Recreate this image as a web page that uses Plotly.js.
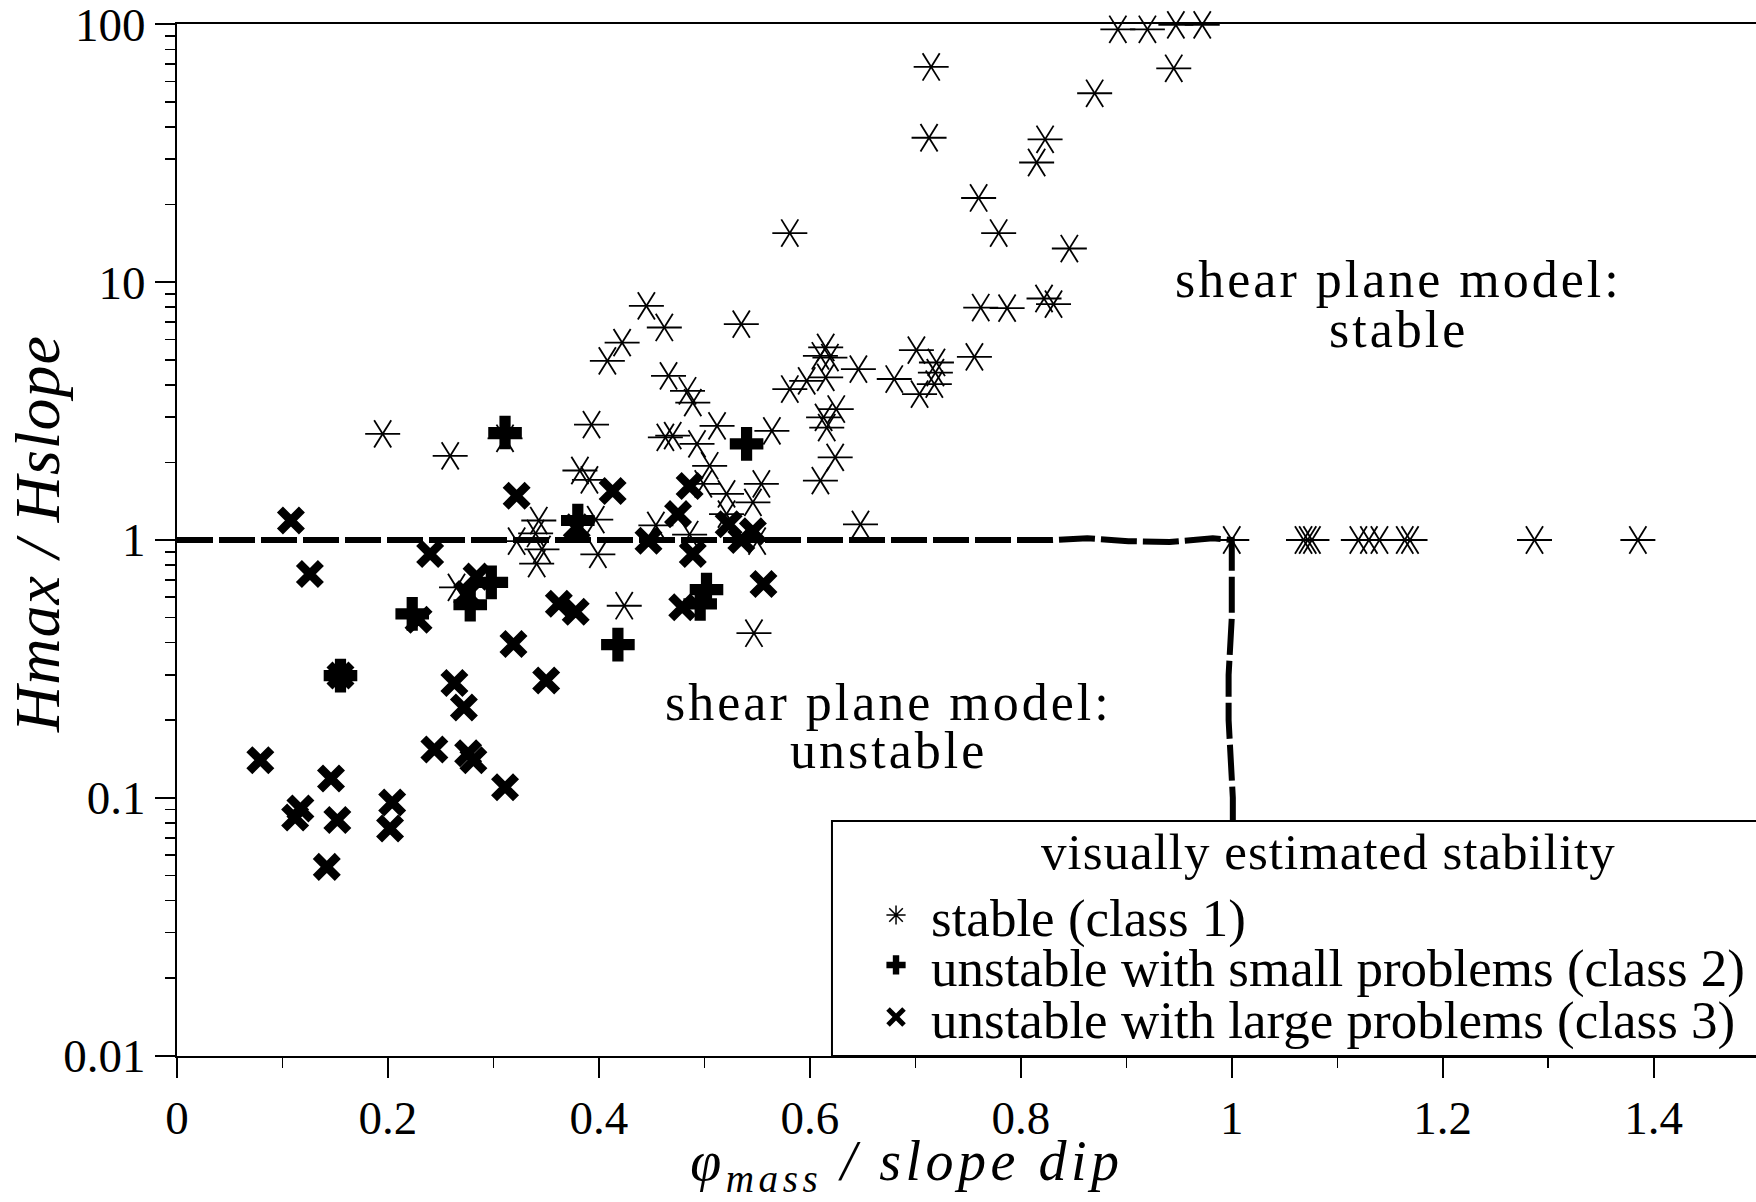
<!DOCTYPE html>
<html>
<head>
<meta charset="utf-8">
<script src="https://cdn.plot.ly/plotly-3.0.1.min.js"></script>
<style>
html, body { margin:0; padding:0; background:#fff; }
#chart { width:1756px; height:1202px; }
.annotation-text { letter-spacing: 3px; }
.annotation[data-index="4"] .annotation-text { letter-spacing: 1px; }
.annotation[data-index="5"] .annotation-text { letter-spacing: 4.5px; }
.annotation[data-index="6"] .annotation-text { letter-spacing: 1px; }
</style>
</head>
<body>
<div id="chart"></div>
<script>
// ---- data ----
// class 1: visually stable (asterisks)
const stableX = [0.892,0.920,0.947,0.972,0.945,0.870,0.715,0.713,0.823,0.815,
                 0.760,0.779,0.846,0.581,0.762,0.787,0.822,0.831,0.445,0.462,
                 0.422,0.408,0.535,0.466,0.484,0.489,0.615,0.610,0.619,0.646,
                 0.615,0.581,0.597,0.701,0.720,0.719,0.718,0.680,0.704,0.756,
                 0.625,0.613,0.616,0.624,0.610,0.554,0.546,0.521,0.505,0.499,
                 0.382,0.391,0.343,0.340,0.322,0.346,0.341,0.265,0.399,0.397,
                 0.454,0.486,0.521,0.550,0.648,0.424,0.547,0.195,0.259,0.311,
                 0.393,0.512,0.463,0.470,0.493,0.564,
                 1.000,1.068,1.072,1.076,1.120,1.130,1.140,1.164,1.169,1.287,1.385];
const stableY = [95.6,95.6,99.4,99.4,67.5,54.0,68.3,36.3,35.8,29.1,
                 21.2,15.5,13.5,15.5,7.97,7.93,8.64,8.22,8.09,6.67,
                 5.83,4.95,6.87,4.33,3.79,3.41,5.58,5.18,5.10,4.60,
                 4.27,3.85,4.14,5.45,4.88,4.46,4.02,4.21,3.68,5.13,
                 3.22,2.99,2.73,2.09,1.70,1.65,1.40,1.51,1.94,1.65,
                 1.86,1.71,1.19,1.06,0.99,0.92,0.81,0.655,0.88,1.20,
                 1.14,1.05,1.26,0.99,1.15,0.556,0.435,2.58,2.12,2.48,
                 2.80,2.77,2.50,2.54,2.36,2.65,
                 1,1,1,1,1,1,1,1,1,1,1];
// class 2: unstable with small problems (bold plus)
const smallX = [0.311,0.540,0.380,0.298,0.278,0.223,0.502,0.496,0.418,0.155];
const smallY = [2.61,2.36,1.19,0.685,0.561,0.517,0.642,0.565,0.393,0.298];
// class 3: unstable with large problems (bold x)
const largeX = [0.108,0.126,0.240,0.322,0.284,0.275,0.229,0.319,0.350,0.263,
                0.272,0.155,0.244,0.276,0.281,0.311,0.079,0.146,0.117,0.112,
                0.152,0.204,0.202,0.142,0.362,0.378,0.413,0.379,0.447,0.475,
                0.486,0.489,0.479,0.523,0.535,0.546,0.556];
const largeY = [1.19,0.738,0.882,1.485,0.721,0.618,0.491,0.395,0.285,0.279,
                0.224,0.298,0.154,0.149,0.140,0.110,0.140,0.119,0.091,0.084,
                0.082,0.096,0.076,0.054,0.566,0.527,1.55,1.12,0.994,1.26,
                1.62,0.882,0.548,1.15,1.00,1.08,0.675];
// hand-drawn boundary of the shear plane model (dashed)
const boundaryX = [0, 0.830, 0.863, 0.902, 0.941, 0.982, 1.000, 1.000, 0.997, 0.997, 1.001, 1.001];
const boundaryY = [1, 1, 1.015, 0.99, 0.983, 1.015, 1.0, 0.5, 0.3, 0.2, 0.1, 0.05];

const legendNames = ['stable (class 1)',
                     'unstable with small problems (class 2)',
                     'unstable with large problems (class 3)'];
const legendTitle = 'visually estimated stability';
const xTitle = '<i>φ<sub>mass</sub> / slope dip</i>';
const yTitle = '<i>Hmax / Hslope</i>';
const regionLabels = ['shear plane model:', 'stable', 'shear plane model:', 'unstable'];

// ---- drawing ----
const K = '#000';
const FONT = '"Liberation Serif", "Times New Roman", Times, serif';

const traces = [
  {x: boundaryX, y: boundaryY, mode: 'lines', showlegend: false, hoverinfo: 'skip',
   line: {color: K, width: 6, dash: '36px,6px'}},
  {x: stableX, y: stableY, mode: 'markers', showlegend: false, cliponaxis: false,
   marker: {symbol: 'line-ew-open', size: 25, color: K, line: {color: K, width: 1.8}}},
  {x: stableX, y: stableY, mode: 'markers', showlegend: false, cliponaxis: false,
   marker: {symbol: 'line-ns-open', size: 23, angle: 32, color: K, line: {color: K, width: 1.8}}},
  {x: stableX, y: stableY, mode: 'markers', showlegend: false, cliponaxis: false,
   marker: {symbol: 'line-ns-open', size: 23, angle: -32, color: K, line: {color: K, width: 1.8}}},
  {x: smallX, y: smallY, mode: 'markers', showlegend: false, cliponaxis: false,
   marker: {symbol: 'cross', size: 28, color: K, line: {width: 0}}},
  {x: largeX, y: largeY, mode: 'markers', showlegend: false, cliponaxis: false,
   marker: {symbol: 'x-thin-open', size: 22, color: K, line: {color: K, width: 8.5}}},
  // legend keys
  {x: [null], y: [null], name: legendNames[0], legend: 'legend', mode: 'markers',
   marker: {symbol: 'asterisk-open', size: 16, color: K, line: {color: K, width: 1.5}}},
  {x: [null], y: [null], name: legendNames[1], legend: 'legend2', mode: 'markers',
   marker: {symbol: 'cross', size: 16, color: K, line: {width: 0}}},
  {x: [null], y: [null], name: legendNames[2], legend: 'legend3', mode: 'markers',
   marker: {symbol: 'x-thin-open', size: 16, color: K, line: {color: K, width: 5}}}
];

function legendAt(yc) {
  return {x: 0.4332, y: yc, xanchor: 'left', yanchor: 'middle', xref: 'paper', yref: 'paper',
          bgcolor: 'rgba(0,0,0,0)', borderwidth: 0, itemwidth: 60,
          font: {family: FONT, size: 53, color: K}};
}

function label(text, x, y, size, extra) {
  return Object.assign({text: text, xref: 'paper', yref: 'paper', x: x, y: y, showarrow: false,
          xanchor: 'center', yanchor: 'middle', font: {family: FONT, size: size, color: K}}, extra || {});
}

const layout = {
  width: 1756, height: 1202,
  margin: {l: 177, r: 0, t: 24, b: 146, pad: 0},
  paper_bgcolor: '#fff', plot_bgcolor: '#fff',
  font: {family: FONT, color: K, size: 47},
  showlegend: true,
  xaxis: {
    range: [0, 1.497], tick0: 0, dtick: 0.2,
    ticks: 'outside', ticklen: 20, tickwidth: 2, tickcolor: K,
    showline: true, linecolor: K, linewidth: 2, mirror: true,
    showgrid: false, zeroline: false, ticklabeloverflow: 'allow',
    tickfont: {family: FONT, size: 47, color: K},
    minor: {dtick: 0.1, ticks: 'outside', ticklen: 10, tickwidth: 1.5, tickcolor: K, showgrid: false}
  },
  yaxis: {
    type: 'log', range: [-2.001, 2.001], dtick: 1,
    ticks: 'outside', ticklen: 20, tickwidth: 2, tickcolor: K,
    showline: true, linecolor: K, linewidth: 2, mirror: false,
    showgrid: false, zeroline: false, ticklabeloverflow: 'allow',
    tickfont: {family: FONT, size: 47, color: K},
    minor: {dtick: 'D1', ticks: 'outside', ticklen: 10, tickwidth: 1.5, tickcolor: K, showgrid: false}
  },
  legend: legendAt(0.1366),
  legend2: legendAt(0.0882),
  legend3: legendAt(0.0378),
  shapes: [{type: 'rect', xref: 'paper', yref: 'paper', x0: 0.4148, x1: 1.05, y0: 0, y1: 0.2277,
            line: {color: K, width: 2}, fillcolor: '#fff', layer: 'above'}],
  annotations: [
    label(regionLabels[0], 0.7733, 0.752, 52),
    label(regionLabels[1], 0.7733, 0.7035, 52),
    label(regionLabels[2], 0.4503, 0.343, 52),
    label(regionLabels[3], 0.4503, 0.2965, 52),
    label(legendTitle, 0.729, 0.1977, 51),
    label(xTitle, 0.4623, -0.106, 56),
    label(yTitle, -0.0887, 0.5058, 64, {textangle: -90})
  ]
};

Plotly.newPlot('chart', traces, layout, {displayModeBar: false, staticPlot: true});
</script>
</body>
</html>
